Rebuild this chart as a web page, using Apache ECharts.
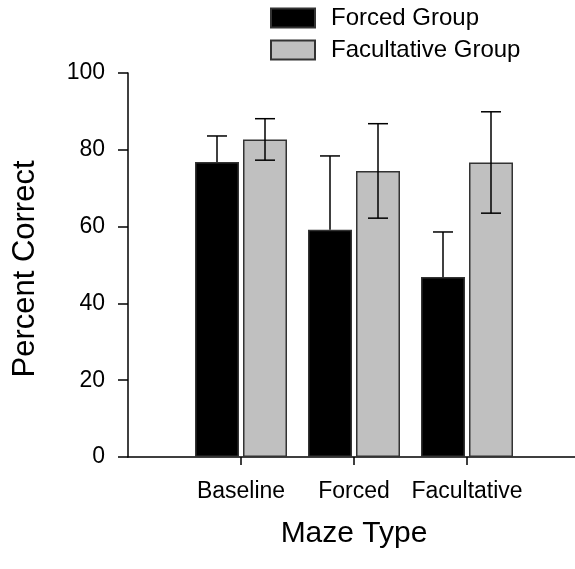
<!DOCTYPE html>
<html>
<head>
<meta charset="utf-8">
<script src="https://cdn.jsdelivr.net/npm/echarts@6/dist/echarts.min.js"></script>
<style>
  html, body { margin: 0; padding: 0; background: #fff; }
  #chart { width: 575px; height: 569px; }
</style>
</head>
<body>
<div id="chart"></div>
<script>
// Maze types on the x axis
const categories = ['Baseline', 'Forced', 'Facultative'];
// Mean percent correct per group
const forcedMeans = [76.8, 59.2, 46.9];
const facultativeMeans = [82.7, 74.5, 76.7];
// Standard errors per group
const forcedErrors = [6.8, 19.2, 11.7];
const facultativeErrors = [5.4, 12.3, 13.2];
// Y axis ticks
const yTicks = [0, 20, 40, 60, 80, 100];

const FONT = '"Liberation Sans", Arial, Helvetica, sans-serif';
const BAR_W = 44;
const BAR_GAP = 4;
const HALF_STEP = (BAR_W + BAR_GAP) / 2;
const CAP = 10;

// Pad the category axis with empty slots so the axis runs edge to edge
const axisCats = [''].concat(categories, ['']);
const pad = arr => ['-'].concat(arr, ['-']);

function errorSeries(name, means, errs, offset, both) {
  const data = means.map((m, i) => [i + 1, m, errs[i]]);
  return {
    type: 'custom',
    name: name + ' SE',
    z: 5,
    silent: true,
    data: data,
    renderItem: function (params, api) {
      const xi = api.value(0), m = api.value(1), e = api.value(2);
      const base = api.coord([xi, m]);
      const x = base[0] + offset;
      const yTop = api.coord([xi, m + e])[1];
      const yBot = both ? api.coord([xi, m - e])[1] : base[1];
      const style = { stroke: '#000', lineWidth: 1.5 };
      const children = [
        { type: 'line', shape: { x1: x, y1: yTop, x2: x, y2: yBot }, style: style },
        { type: 'line', shape: { x1: x - CAP, y1: yTop, x2: x + CAP, y2: yTop }, style: style }
      ];
      if (both) {
        children.push({ type: 'line', shape: { x1: x - CAP, y1: yBot, x2: x + CAP, y2: yBot }, style: style });
      }
      return { type: 'group', children: children };
    }
  };
}

const chart = echarts.init(document.getElementById('chart'), null, { renderer: 'canvas' });
chart.setOption({
  animation: false,
  backgroundColor: '#fff',
  textStyle: { fontFamily: FONT, color: '#000' },
  legend: {
    orient: 'vertical',
    left: 265,
    top: 1,
    icon: 'rect',
    itemWidth: 44,
    itemHeight: 19,
    itemGap: 8,
    data: ['Forced Group', 'Facultative Group'],
    textStyle: { fontFamily: FONT, fontSize: 24, color: '#000', padding: [0, 0, 0, 11] }
  },
  grid: { left: 128, top: 73, bottom: 112, width: 452, containLabel: false, outerBoundsMode: 'none' },
  xAxis: {
    type: 'category',
    data: axisCats,
    boundaryGap: false,
    name: 'Maze Type',
    nameLocation: 'middle',
    nameGap: 62,
    nameTextStyle: { fontFamily: FONT, fontSize: 30, color: '#000' },
    axisLine: { lineStyle: { color: '#000', width: 1.5 } },
    axisTick: { show: true, length: 8, lineStyle: { color: '#000', width: 1.5 },
      interval: (i) => i > 0 && i < axisCats.length - 1 },
    axisLabel: { fontFamily: FONT, fontSize: 23, color: '#000', margin: 23, interval: 0 },
    splitLine: { show: false }
  },
  yAxis: {
    type: 'value',
    min: yTicks[0],
    max: yTicks[yTicks.length - 1],
    interval: yTicks[1] - yTicks[0],
    name: 'Percent Correct',
    nameLocation: 'middle',
    nameGap: 87,
    nameTextStyle: { fontFamily: FONT, fontSize: 31, color: '#000', padding: [0, 8, 0, 0] },
    axisLine: { show: true, lineStyle: { color: '#000', width: 1.5 } },
    axisTick: { show: true, length: 10, lineStyle: { color: '#000', width: 1.5 } },
    axisLabel: { fontFamily: FONT, fontSize: 23, color: '#000', margin: 23 },
    splitLine: { show: false }
  },
  series: [
    {
      name: 'Forced Group',
      type: 'bar',
      data: pad(forcedMeans),
      barWidth: BAR_W,
      barGap: (BAR_GAP / BAR_W * 100) + '%',
      itemStyle: { color: '#000', borderColor: '#333', borderWidth: 1.5 }
    },
    {
      name: 'Facultative Group',
      type: 'bar',
      data: pad(facultativeMeans),
      barWidth: BAR_W,
      itemStyle: { color: '#c0c0c0', borderColor: '#333', borderWidth: 1.5 }
    },
    errorSeries('Forced Group', forcedMeans, forcedErrors, -HALF_STEP, false),
    errorSeries('Facultative Group', facultativeMeans, facultativeErrors, HALF_STEP, true)
  ]
});
</script>
</body>
</html>
